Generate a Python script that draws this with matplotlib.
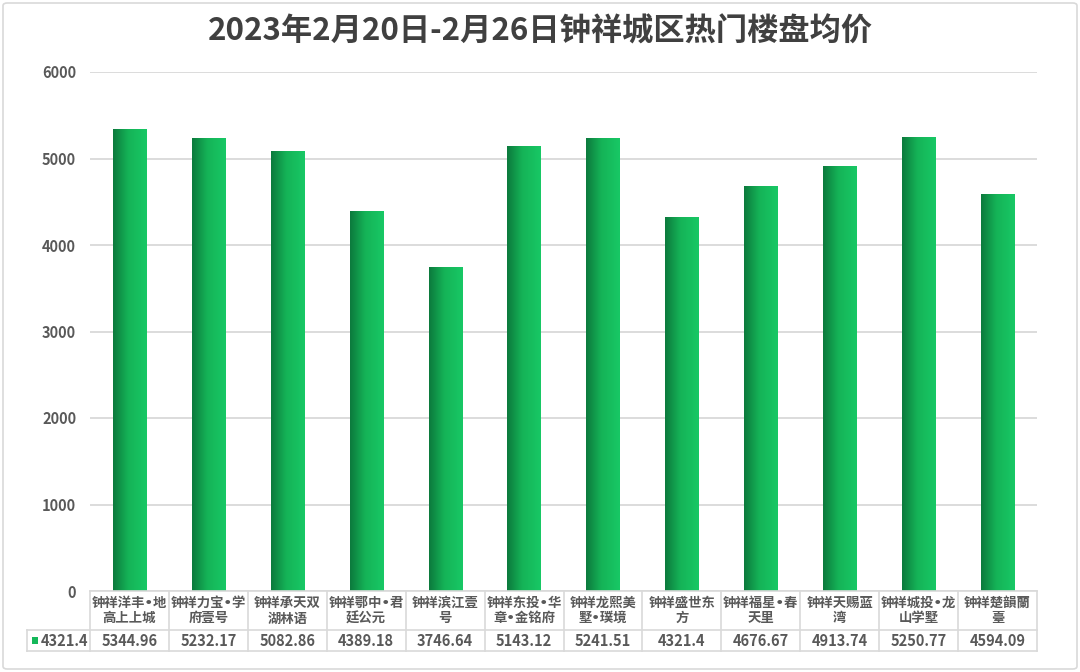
import numpy as np
import matplotlib.pyplot as plt
from matplotlib.colors import LinearSegmentedColormap
from matplotlib.patches import FancyBboxPatch

plt.rcParams['font.family'] = ['Noto Sans CJK SC', 'DejaVu Sans']

# data
title = "2023年2月20日-2月26日钟祥城区热门楼盘均价"
series_name = "4321.4"
names = ["钟祥洋丰•地\n高上上城", "钟祥力宝•学\n府壹号", "钟祥承天双\n湖林语", "钟祥鄂中•君\n廷公元",
         "钟祥滨江壹\n号", "钟祥东投•华\n章•金铭府", "钟祥龙熙美\n墅•璞境", "钟祥盛世东\n方",
         "钟祥福星•春\n天里", "钟祥天赐蓝\n湾", "钟祥城投•龙\n山学墅", "钟祥楚韻蘭\n臺"]
prices = [5344.96, 5232.17, 5082.86, 4389.18, 3746.64, 5143.12, 5241.51, 4321.4,
          4676.67, 4913.74, 5250.77, 4594.09]
value_labels = ["5344.96", "5232.17", "5082.86", "4389.18", "3746.64", "5143.12",
                "5241.51", "4321.4", "4676.67", "4913.74", "5250.77", "4594.09"]

W, H = 1080, 672
fig = plt.figure(figsize=(W / 100, H / 100), dpi=100)
txt = '#595959'
grid = '#D9D9D9'

# outer border
fig.patches.append(FancyBboxPatch((3 / W, 3 / H), 1 - 6 / W, 1 - 6 / H,
                                  boxstyle="round,pad=0,rounding_size=0.004",
                                  transform=fig.transFigure, fc='none', ec='#D9D9D9', lw=1.2))

left, right, top, bottom = 90, 1037, 72, 591
ax = fig.add_axes([left / W, 1 - bottom / H, (right - left) / W, (bottom - top) / H])
ax.patch.set_alpha(0)
n = len(prices)
x = np.arange(n)
bars = ax.bar(x, prices, width=0.42, color='#15C060', zorder=2)

cmap = LinearSegmentedColormap.from_list('g', [(0, '#0C7A3D'), (0.45, '#15B357'), (1, '#18C865')])
grad = np.linspace(0, 1, 64).reshape(1, -1)
for b in bars:
    x0, w, h = b.get_x(), b.get_width(), b.get_height()
    im = ax.imshow(grad, cmap=cmap, extent=[x0, x0 + w, 0, h], aspect='auto', zorder=3)
    im.set_clip_path(b)

ax.set_xlim(-0.5, n - 0.5)
ax.set_ylim(0, 6000)
ax.set_yticks(range(0, 6001, 1000))
ax.yaxis.grid(True, color=grid, lw=1.3, zorder=0)
ax.set_xticks([])
for s in ax.spines.values():
    s.set_visible(False)
ax.tick_params(axis='y', length=0, pad=10, labelsize=10.5, labelcolor=txt)
for lab in ax.get_yticklabels():
    lab.set_fontweight('bold')

fig.text(0.5, 1 - 32 / H, title, ha='center', va='center', fontsize=22.5,
         fontweight='bold', color='#404040')

# data table below the axis
r0, r1, r2 = 591, 630, 651
leg_l = 27
col_w = (right - left) / n

def fx(px):
    return px / W

def fy(py):
    return 1 - py / H

lw = 1.2
fig.add_artist(plt.Line2D([fx(left), fx(right)], [fy(r0), fy(r0)], color=grid, lw=lw))
fig.add_artist(plt.Line2D([fx(leg_l), fx(right)], [fy(r1), fy(r1)], color=grid, lw=lw))
fig.add_artist(plt.Line2D([fx(leg_l), fx(right)], [fy(r2), fy(r2)], color=grid, lw=lw))
fig.add_artist(plt.Line2D([fx(leg_l), fx(leg_l)], [fy(r1), fy(r2)], color=grid, lw=lw))
for i in range(n + 1):
    xp = left + i * col_w
    fig.add_artist(plt.Line2D([fx(xp), fx(xp)], [fy(r0), fy(r2)], color=grid, lw=lw))

for i in range(n):
    cx = left + (i + 0.5) * col_w
    fig.text(fx(cx), fy((r0 + r1) / 2 + 0.5), names[i], ha='center', va='center', fontsize=9.6,
             fontweight='bold', color=txt, linespacing=1.25,
             family=['DejaVu Sans', 'Noto Sans CJK SC'])
    fig.text(fx(cx), fy((r1 + r2) / 2), value_labels[i], ha='center', va='center', fontsize=10.5,
             fontweight='bold', color=txt)

# legend key
fig.patches.append(plt.Rectangle((fx(32), fy(644)), 6 / W, 7 / H, transform=fig.transFigure,
                                 fc='#15B85A', ec='none'))
fig.text(fx(41), fy((r1 + r2) / 2), series_name, ha='left', va='center', fontsize=10.5,
         fontweight='bold', color=txt)

fig.savefig('out.png', dpi=100)
